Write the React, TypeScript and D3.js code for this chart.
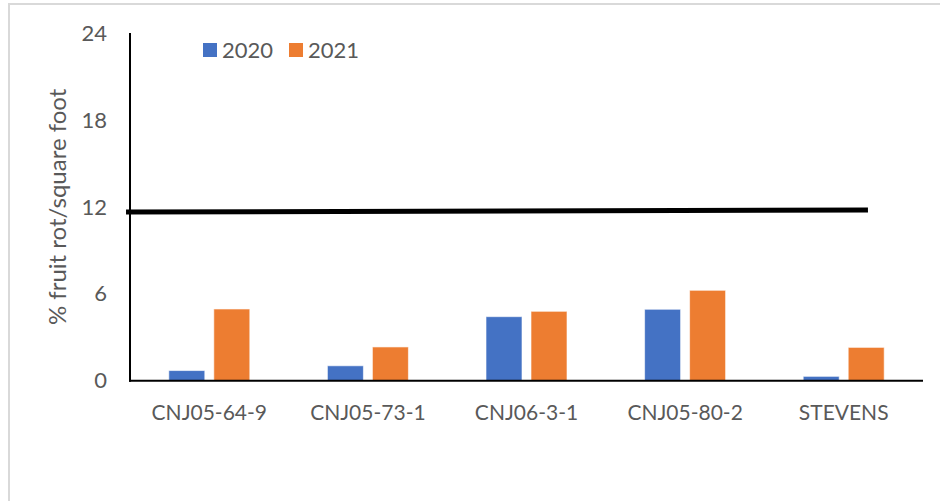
import { useEffect, useRef } from 'react';
import * as d3 from 'd3';

const categories = ['CNJ05-64-9', 'CNJ05-73-1', 'CNJ06-3-1', 'CNJ05-80-2', 'STEVENS'];
const seriesNames = ['2020', '2021'];
const values2020 = [0.7, 1.03, 4.42, 4.93, 0.3];
const values2021 = [4.95, 2.33, 4.79, 6.24, 2.3];
const yTicks = [0, 6, 12, 18, 24];
// reference line, drawn in category units across the plot
const thresholdValues = [11.64, 11.78];
const thresholdSpan = [-0.025, 4.653];

const colors = ['#4472C4', '#ED7D31'];
const FONT = 'Lato, Carlito, Calibri, sans-serif';
const TEXT = '#595959';

const App = () => {
  const svgRef = useRef<SVGSVGElement>(null);
  const width = 940;
  const height = 501;

  useEffect(() => {
    if (!svgRef.current) return;
    const svg = d3.select(svgRef.current);
    svg.selectAll('*').remove();

    const left = 130;
    const right = 923;
    const top = 33;
    const bottom = 380.7;

    // chart frame (only top and left edges are visible)
    svg.append('line')
      .attr('x1', 8).attr('x2', width)
      .attr('y1', 4).attr('y2', 4)
      .attr('stroke', '#d9d9d9').attr('stroke-width', 2);
    svg.append('line')
      .attr('x1', 9).attr('x2', 9)
      .attr('y1', 3).attr('y2', height)
      .attr('stroke', '#d9d9d9').attr('stroke-width', 2);

    const y = d3.scaleLinear().domain([0, 24]).range([bottom, top]);
    const x0 = d3.scaleBand().domain(categories).range([left, right]).padding(0);
    const groupWidth = 81;
    const x1 = d3.scaleBand().domain(seriesNames).range([0, groupWidth]).paddingInner(0.2);
    const xPos = d3.scaleLinear().domain([0, categories.length]).range([left, right]);

    const rows = categories.map((c, i) => ({
      category: c,
      values: [values2020[i], values2021[i]],
    }));

    // bars
    const groups = svg.selectAll('.group')
      .data(rows)
      .enter().append('g')
      .attr('class', 'group')
      .attr('transform', d => `translate(${(x0(d.category) || 0) + (x0.bandwidth() - groupWidth) / 2},0)`);

    groups.selectAll('rect')
      .data(d => d.values.map((v, i) => ({ key: seriesNames[i], value: v, i })))
      .enter().append('rect')
      .attr('x', d => x1(d.key) || 0)
      .attr('y', d => y(d.value))
      .attr('width', x1.bandwidth())
      .attr('height', d => bottom - y(d.value))
      .attr('fill', d => colors[d.i])
      .attr('stroke', 'rgba(255,255,255,0.6)')
      .attr('stroke-width', 1);

    // axes
    svg.append('line')
      .attr('x1', left).attr('x2', left)
      .attr('y1', top).attr('y2', bottom + 1)
      .attr('stroke', '#000').attr('stroke-width', 2);
    svg.append('line')
      .attr('x1', left - 1).attr('x2', right)
      .attr('y1', bottom).attr('y2', bottom)
      .attr('stroke', '#000').attr('stroke-width', 2);

    // y tick labels
    svg.selectAll('.ytick')
      .data(yTicks)
      .enter().append('text')
      .attr('class', 'ytick')
      .attr('x', 107)
      .attr('y', d => y(d))
      .attr('dy', '0.35em')
      .attr('text-anchor', 'end')
      .attr('font-family', FONT)
      .attr('font-size', 22)
      .attr('fill', TEXT)
      .text(d => d);

    // category labels
    svg.selectAll('.xlabel')
      .data(categories)
      .enter().append('text')
      .attr('class', 'xlabel')
      .attr('x', d => (x0(d) || 0) + x0.bandwidth() / 2)
      .attr('y', 420)
      .attr('text-anchor', 'middle')
      .attr('font-family', FONT)
      .attr('font-size', 21)
      .attr('fill', TEXT)
      .text(d => d);

    // y axis title
    svg.append('text')
      .attr('transform', `translate(66,${y(12)}) rotate(-90)`)
      .attr('text-anchor', 'middle')
      .attr('font-family', FONT)
      .attr('font-size', 24)
      .attr('fill', TEXT)
      .text('% fruit rot/square foot');

    // threshold line
    svg.append('line')
      .attr('x1', xPos(thresholdSpan[0]))
      .attr('x2', xPos(thresholdSpan[1]))
      .attr('y1', y(thresholdValues[0]))
      .attr('y2', y(thresholdValues[1]))
      .attr('stroke', '#000')
      .attr('stroke-width', 5);

    // legend
    const legendX = [203, 289];
    const legend = svg.selectAll('.legend')
      .data(seriesNames)
      .enter().append('g')
      .attr('class', 'legend')
      .attr('transform', (d, i) => `translate(${legendX[i]},43)`);
    legend.append('rect')
      .attr('width', 14).attr('height', 14)
      .attr('fill', (d, i) => colors[i]);
    legend.append('text')
      .attr('x', 19)
      .attr('y', 7)
      .attr('dy', '0.35em')
      .attr('font-family', FONT)
      .attr('font-size', 22)
      .attr('fill', TEXT)
      .text(d => d);
  }, []);

  return (
    <svg
      ref={svgRef}
      width={width}
      height={height}
      style={{ position: 'absolute', left: 0, top: 0, background: '#fff' }}
    />
  );
};

export default App;
